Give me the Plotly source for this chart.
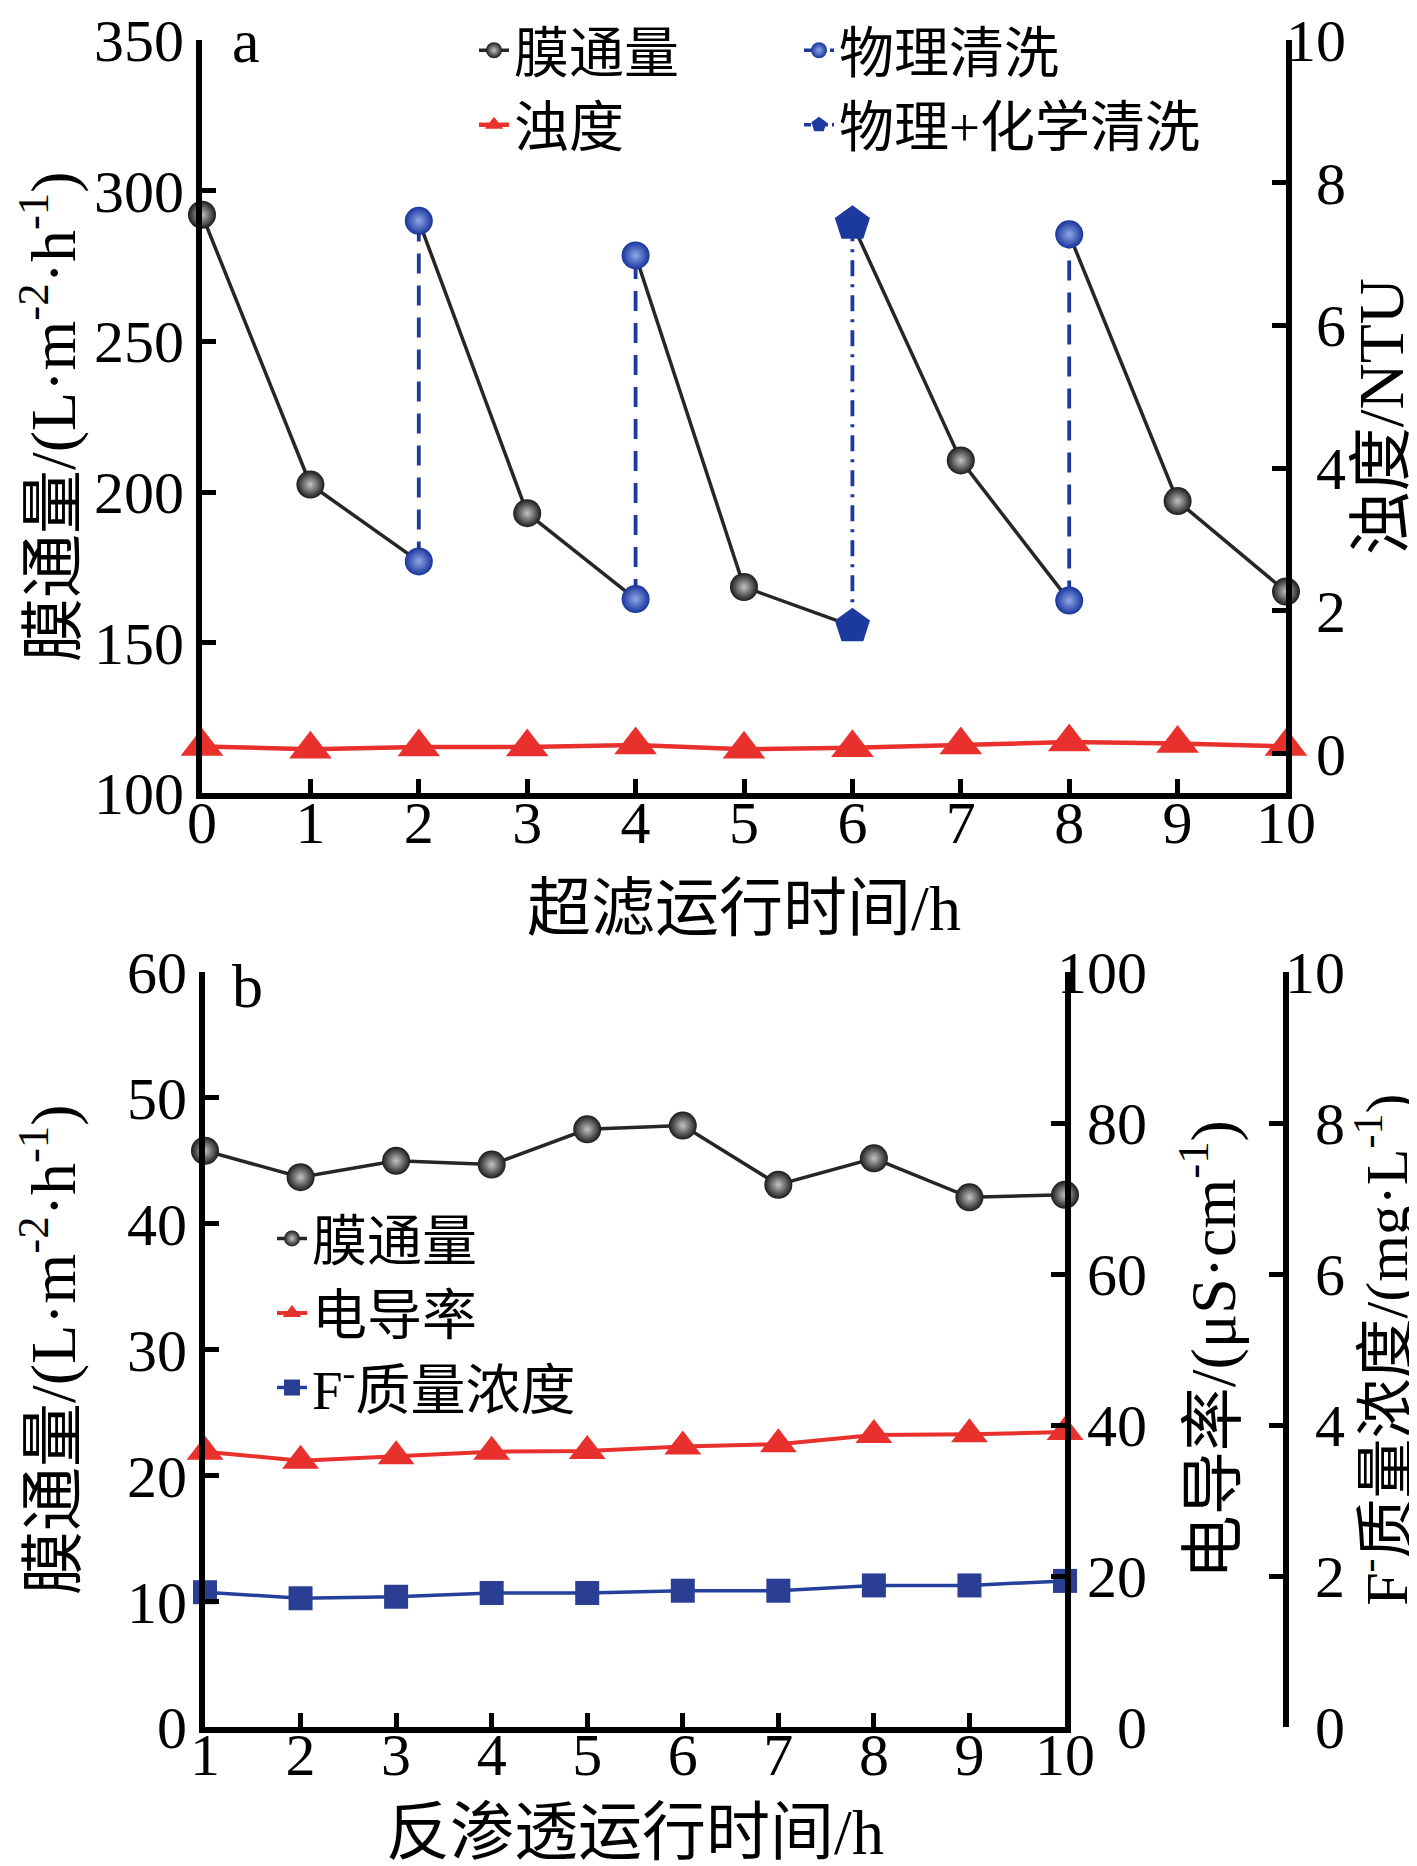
"""
Ultrafiltration / reverse osmosis run chart (panels a and b)
"""
import plotly.graph_objects as go

# ---- panel a: ultrafiltration ----
uf_hours = [0, 1, 2, 3, 4, 5, 6, 7, 8, 9, 10]
uf_flux = [292, 202.5, 177, 193, 164.5, 168.5, 155.5, 210.5, 164, 197, 167]   # before cleaning
clean_hours = [2, 4, 8]
clean_flux_after = [290, 278.5, 285.5]          # after physical cleaning
chem_hours = [6]
chem_flux_after = [289]                         # after physical + chemical cleaning
uf_turbidity = [0.10, 0.06, 0.09, 0.09, 0.12, 0.06, 0.08, 0.12, 0.16, 0.14, 0.10]

# ---- panel b: reverse osmosis ----
ro_hours = [1, 2, 3, 4, 5, 6, 7, 8, 9, 10]
ro_flux = [45.8, 43.7, 45.0, 44.7, 47.5, 47.8, 43.1, 45.2, 42.1, 42.3]
ro_conductivity = [36.5, 35.3, 35.9, 36.5, 36.6, 37.2, 37.5, 38.7, 38.8, 39.1]
ro_fluoride = [1.79, 1.71, 1.73, 1.78, 1.78, 1.81, 1.81, 1.88, 1.88, 1.94]

# tick values
flux_a_ticks = [100, 150, 200, 250, 300, 350]
ntu_ticks = [0, 2, 4, 6, 8, 10]
cond_ticks = [0, 20, 40, 60, 80, 100]
fluoride_ticks = [0, 2, 4, 6, 8, 10]

FONT = "Liberation Serif, Times New Roman, Noto Sans CJK SC"
BLACK = "#262626"
RED = "#e8312c"
BLUE = "#1c3a9e"

W, H = 1417, 1866


def px_x(p):
    return p / W


def px_y(p):
    return 1 - p / H


def right_aligned(vals):
    # right-side labels in the original are right aligned; pad with two
    # no-break spaces (one digit width in a Times face) per missing digit
    labels = [str(v) for v in vals]
    n = max(len(s) for s in labels)
    return ["\u00a0\u00a0" * (n - len(s)) + s for s in labels]


sphere_black = dict(symbol="circle", size=28, color="#1a1a1a",
                    gradient=dict(type="radial", color="#c4c4c4"),
                    line=dict(width=0))
sphere_blue = dict(symbol="circle", size=28, color="#18349a",
                   gradient=dict(type="radial", color="#8fa8e8"),
                   line=dict(width=0))
pentagon = dict(symbol="pentagon", size=37, color=BLUE, line=dict(width=0))
tri = dict(symbol="triangle-up", size=37, color=RED, line=dict(width=0))

fig = go.Figure()

# flux line of panel a: segments between cleanings
restart = {h: v for h, v in zip(clean_hours + chem_hours, clean_flux_after + chem_flux_after)}
seg_x, seg_y = [], []
for h in uf_hours:
    seg_x.append(h)
    seg_y.append(uf_flux[h])
    if h in restart:
        seg_x += [None, h]
        seg_y += [None, restart[h]]
fig.add_trace(go.Scatter(x=seg_x, y=seg_y, mode="lines", line=dict(color=BLACK, width=3.5),
                         showlegend=False, xaxis="x", yaxis="y"))

# cleaning jumps
for h, v in zip(clean_hours, clean_flux_after):
    fig.add_trace(go.Scatter(x=[h, h], y=[uf_flux[h], v], mode="lines+markers",
                             line=dict(color=BLUE, width=3.8, dash="20px,12px"),
                             marker=sphere_blue, showlegend=False, cliponaxis=False,
                             xaxis="x", yaxis="y"))
for h, v in zip(chem_hours, chem_flux_after):
    fig.add_trace(go.Scatter(x=[h, h], y=[uf_flux[h], v], mode="lines+markers",
                             line=dict(color=BLUE, width=3.8, dash="16px,8px,3px,8px"),
                             marker=pentagon, showlegend=False, cliponaxis=False,
                             xaxis="x", yaxis="y"))

# regular flux points
plain = [h for h in uf_hours if h not in restart]
fig.add_trace(go.Scatter(x=plain, y=[uf_flux[h] for h in plain], mode="markers",
                         marker=sphere_black, showlegend=False, cliponaxis=False,
                         xaxis="x", yaxis="y"))

# turbidity
fig.add_trace(go.Scatter(x=uf_hours, y=uf_turbidity, mode="lines+markers",
                         line=dict(color=RED, width=4.5), marker=tri,
                         showlegend=False, cliponaxis=False, xaxis="x", yaxis="y2"))

# legend entries for panel a
fig.add_trace(go.Scatter(x=[None], y=[None], mode="lines+markers", name="膜通量",
                         line=dict(color=BLACK, width=3.5), marker=sphere_black,
                         legend="legend", xaxis="x", yaxis="y"))
fig.add_trace(go.Scatter(x=[None], y=[None], mode="lines+markers", name="浊度",
                         line=dict(color=RED, width=4.5), marker=tri,
                         legend="legend", xaxis="x", yaxis="y"))
fig.add_trace(go.Scatter(x=[None], y=[None], mode="lines+markers", name="物理清洗",
                         line=dict(color=BLUE, width=3.5, dash="8px,5px"), marker=sphere_blue,
                         legend="legend2", xaxis="x", yaxis="y"))
fig.add_trace(go.Scatter(x=[None], y=[None], mode="lines+markers", name="物理+化学清洗",
                         line=dict(color=BLUE, width=3.5, dash="7px,4px,2px,4px"), marker=pentagon,
                         legend="legend2", xaxis="x", yaxis="y"))

# panel b
fig.add_trace(go.Scatter(x=ro_hours, y=ro_flux, mode="lines+markers", name="膜通量",
                         line=dict(color=BLACK, width=3.5), marker=dict(sphere_black, size=28),
                         legend="legend3", cliponaxis=False, xaxis="x2", yaxis="y3"))
fig.add_trace(go.Scatter(x=ro_hours, y=ro_conductivity, mode="lines+markers", name="电导率",
                         line=dict(color=RED, width=4), marker=dict(tri, size=32),
                         legend="legend3", cliponaxis=False, xaxis="x2", yaxis="y4"))
fig.add_trace(go.Scatter(x=ro_hours, y=ro_fluoride, mode="lines+markers",
                         name="F<sup>-</sup>质量浓度",
                         line=dict(color="#24409a", width=3.5),
                         marker=dict(symbol="square", size=24, color="#2a3f93"),
                         legend="legend3", cliponaxis=False, xaxis="x2", yaxis="y5"))

axis_common = dict(showline=True, linewidth=6, linecolor="black", ticks="inside",
                   ticklen=14, tickwidth=5, tickcolor="black", showgrid=False,
                   zeroline=False, automargin=False, ticklabeloverflow="allow",
                   tickfont=dict(family=FONT, size=60, color="black"),
                   title_font=dict(family=FONT, size=64, color="black"))

top_dom = [px_y(782), px_y(26)]
bot_dom = [px_y(1719), px_y(961)]
x_dom_a = [px_x(194), px_x(1278)]
x_dom_b = [px_x(197), px_x(1057)]

legend_font = dict(family=FONT, size=55, color="black")

fig.update_layout(
    width=W, height=H,
    margin=dict(l=0, r=0, t=0, b=0),
    paper_bgcolor="white", plot_bgcolor="white",
    font=dict(family=FONT, size=58, color="black"),
    xaxis=dict(axis_common, domain=x_dom_a, anchor="y", range=[0, 10], dtick=1,
               ticklabelstandoff=-28,
               title=dict(text="超滤运行时间/h", standoff=32)),
    yaxis=dict(axis_common, domain=top_dom, anchor="x", range=[100, 350],
               tickvals=flux_a_ticks,
               title=dict(text="膜通量/(L·m<sup>-2</sup>·h<sup>-1</sup>)", standoff=38)),
    yaxis2=dict(axis_common, overlaying="y", anchor="x", side="right",
                range=[-0.56, 10], tickvals=ntu_ticks, ticktext=right_aligned(ntu_ticks),
                ticklabelstandoff=-18,
                title=dict(text="浊度/NTU", standoff=14)),
    xaxis2=dict(axis_common, domain=x_dom_b, anchor="y3", range=[1, 10], dtick=1,
                ticklabelstandoff=-30,
                title=dict(text="反渗透运行时间/h", standoff=24)),
    yaxis3=dict(axis_common, domain=bot_dom, anchor="x2", range=[0, 60], dtick=10,
                title=dict(text="膜通量/(L·m<sup>-2</sup>·h<sup>-1</sup>)", standoff=68)),
    yaxis4=dict(axis_common, overlaying="y3", anchor="x2", side="right",
                range=[0, 100], tickvals=cond_ticks, ticktext=right_aligned(cond_ticks),
                ticklabelstandoff=-26,
                title=dict(text="电导率/(μS·cm<sup>-1</sup>)", standoff=46)),
    yaxis5=dict(axis_common, overlaying="y3", anchor="free", position=px_x(1278),
                side="right", range=[0, 10], tickvals=fluoride_ticks,
                ticktext=right_aligned(fluoride_ticks), ticklabelstandoff=-16,
                title=dict(text="F<sup>-</sup>质量浓度/(mg·L<sup>-1</sup>)", standoff=10,
                           font=dict(family=FONT, size=60, color="black"))),
    legend=dict(x=px_x(466), y=px_y(-6), xanchor="left", yanchor="top",
                bgcolor="rgba(0,0,0,0)", font=legend_font, tracegroupgap=0),
    legend2=dict(x=px_x(791), y=px_y(-6), xanchor="left", yanchor="top",
                 bgcolor="rgba(0,0,0,0)", font=legend_font, tracegroupgap=0),
    legend3=dict(x=px_x(264), y=px_y(1186), xanchor="left", yanchor="top",
                 bgcolor="rgba(0,0,0,0)", font=legend_font, tracegroupgap=0),
    annotations=[
        dict(text="a", x=px_x(222), y=px_y(27), xref="paper", yref="paper",
             xanchor="left", yanchor="middle", showarrow=False,
             font=dict(family=FONT, size=62)),
        dict(text="b", x=px_x(222), y=px_y(975), xref="paper", yref="paper",
             xanchor="left", yanchor="middle", showarrow=False,
             font=dict(family=FONT, size=62)),
    ],
)

fig.write_html("out.html")
